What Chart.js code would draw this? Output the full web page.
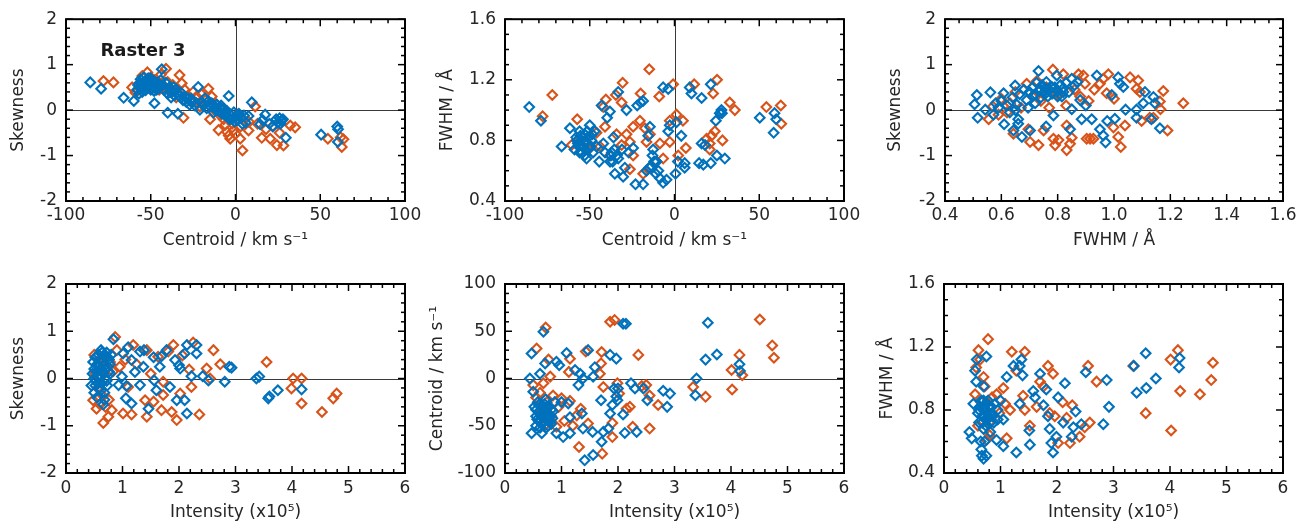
<!DOCTYPE html>
<html><head><meta charset="utf-8">
<script src="https://cdn.jsdelivr.net/npm/chart.js@4.4.1/dist/chart.umd.min.js"></script>
<style>
html,body{margin:0;padding:0;background:#fff;}
body{width:1312px;height:529px;position:relative;overflow:hidden;}
canvas{position:absolute;}
</style></head><body>
<canvas id="c1" width="437" height="264" style="left:0;top:0"></canvas>
<canvas id="c2" width="454" height="264" style="left:420px;top:0"></canvas>
<canvas id="c3" width="452" height="264" style="left:860px;top:0"></canvas>
<canvas id="c4" width="437" height="265" style="left:0;top:264px"></canvas>
<canvas id="c5" width="454" height="265" style="left:420px;top:264px"></canvas>
<canvas id="c6" width="452" height="265" style="left:860px;top:264px"></canvas>
<script>
// ---- Panel 1: Centroid (x) vs Skewness (y)
const p1Blue = [[-85.7,0.61],[-79.3,0.47],[-66,0.27],[-60,0.2],[-58,0.45],[-57.5,0.55],[-57,0.36],[-56,0.68],[-56,0.48],[-55,0.6],[-55,0.4],[-54,0.72],[-54,0.52],[-53,0.63],[-53,0.44],[-52,0.57],[-52,0.68],[-51,0.5],[-51,0.62],[-50,0.45],[-50,0.7],[-49,0.56],[-48,0.64],[-48,0.42],[-47.8,0.15],[-47,0.52],[-46,0.6],[-45,0.48],[-44,0.66],[-43.5,0.9],[-43,0.55],[-42,0.44],[-41,0.6],[-40,0.36],[-40,-0.06],[-39,0.5],[-38,0.28],[-37,0.42],[-36,0.32],[-35,0.46],[-34,-0.08],[-33,0.3],[-32,0.38],[-31,0.22],[-30,0.3],[-29,0.18],[-28,0.26],[-27,0.12],[-25,0.2],[-24,0.1],[-22,0.51],[-21,0.01],[-20,0.18],[-19,0.1],[-18,0.26],[-17,0.04],[-16,0.2],[-15,0.08],[-14,0.15],[-13,-0.05],[-12,0.06],[-11,0.12],[-10,-0.02],[-9,0.05],[-8,-0.08],[-7,0.02],[-6,-0.12],[-5,-0.02],[-4,0.31],[-3,-0.1],[-2,-0.2],[-1,-0.05],[0,-0.14],[1,-0.22],[2,-0.08],[3,-0.18],[4,-0.3],[5,-0.12],[6,-0.28],[7.7,-0.13],[9.6,0.17],[14.5,-0.31],[16,-0.22],[17.5,-0.1],[20,-0.3],[22,-0.36],[24,-0.2],[25,-0.28],[26,-0.18],[27,-0.24],[28,-0.2],[29.7,-0.61],[50.5,-0.54],[60,-0.36],[60.5,-0.42],[60.4,-0.7],
  [-56.5,0.6],[-55.5,0.52],[-54.5,0.45],[-53.5,0.58],[-52.5,0.5],[-51.5,0.7],[-49.5,0.64],[-48.5,0.5],[-46.5,0.45],[-44.5,0.55],[-38.5,0.4],[-36.5,0.5],[-34.5,0.38],[-26,0.25],[-23,0.15],[-13.5,0.1],[-11.5,0.0],[-8.5,0.1],[-6.5,-0.05],[-3.5,-0.2],[-0.5,-0.25],[1.5,-0.12],[26.5,-0.3],[27.5,-0.22]];
const p1Orange = [[-77.9,0.64],[-72,0.61],[-61,0.5],[-59,0.38],[-55,0.75],[-52,0.83],[-50,0.72],[-48,0.66],[-46,0.55],[-45,0.45],[-44,0.78],[-42,0.52],[-41,0.91],[-40,0.62],[-38,0.4],[-37,0.55],[-35,0.28],[-33,0.77],[-31.7,0.59],[-30.7,-0.17],[-30,0.45],[-28,0.32],[-26,0.18],[-25,0.4],[-23,0.3],[-21,0.08],[-20,0.35],[-18,0.22],[-16,0.47],[-15,-0.2],[-14,0.3],[-13,0.02],[-12,0.15],[-10,-0.44],[-9,-0.12],[-8,0.04],[-7,-0.2],[-6,-0.32],[-5,-0.48],[-4,-0.56],[-3.1,-0.63],[-2,-0.3],[-1.2,-0.45],[0,-0.52],[1,-0.1],[2.8,-0.63],[3,-0.36],[4.1,-0.89],[5,-0.22],[7.7,-0.45],[8,-0.26],[11.6,0.08],[13,-0.3],[15.5,-0.61],[18,-0.42],[20.5,-0.63],[22,-0.35],[24.4,-0.77],[26,-0.5],[28.3,-0.78],[32.3,-0.34],[35.2,-0.38],[54.5,-0.63],[62,-0.6],[63.7,-0.64],[62.7,-0.81]];

// ---- Panel 2: Centroid (x) vs FWHM (y)
const p2Blue = [[-85.7,1.02],[-78.8,0.93],[-66.6,0.76],[-61.7,0.88],[-59,0.74],[-58,0.82],[-57,0.78],[-56,0.86],[-56,0.72],[-55,0.8],[-54,0.76],[-53,0.84],[-53,0.7],[-52,0.79],[-51.9,0.68],[-51,0.82],[-50,0.9],[-50,0.75],[-49,0.8],[-48,0.72],[-47,0.86],[-46,0.76],[-44.4,0.66],[-43,1.03],[-42,0.78],[-41,0.72],[-39.7,0.95],[-38.1,0.99],[-38,0.66],[-37,0.72],[-36,0.82],[-35.2,0.58],[-34,0.7],[-33.2,1.12],[-33.2,0.68],[-31,0.74],[-30.3,0.56],[-29.3,0.62],[-28.3,1.0],[-27,0.72],[-24.4,0.75],[-23,0.51],[-22,1.03],[-20,1.05],[-18.5,0.51],[-18.5,1.06],[-16.5,0.6],[-15.5,0.83],[-14.5,0.89],[-13.6,0.63],[-13,0.7],[-12.6,0.74],[-11,0.58],[-10.6,0.66],[-8.6,0.55],[-6.7,1.15],[-6.7,0.52],[-4.7,0.54],[-3.7,1.14],[-3.7,0.86],[-2.8,0.9],[0.6,0.58],[1.2,0.92],[2,0.66],[4,0.83],[6,0.62],[6,0.65],[9,1.15],[10,1.11],[14.5,0.65],[16,1.08],[16,0.78],[17,0.64],[18,0.77],[21.4,1.17],[21.4,0.65],[24.4,0.93],[25,0.7],[26.7,0.98],[27.7,1.0],[29.7,0.68],[50.3,0.95],[58.5,0.85],[59,0.98],[60,0.94],
  [-57.5,0.8],[-56.5,0.76],[-55.5,0.83],[-54.5,0.72],[-53.5,0.79],[-52.5,0.74],[-51.5,0.86],[-49.5,0.76],[-48.5,0.84],[-37.5,0.7],[-36.5,0.66],[-35.5,0.74],[-15,0.62],[-12,0.66],[-9.5,0.6],[28,0.98]];
const p2Orange = [[-77.8,0.96],[-72.1,1.1],[-60.7,0.77],[-57.4,0.94],[-56.8,0.8],[-51.9,0.79],[-50.9,0.74],[-46,0.85],[-44,0.76],[-42,1.02],[-41,0.89],[-40.5,1.07],[-38.1,0.7],[-34.6,1.1],[-34.2,0.84],[-31.2,1.05],[-31.2,0.77],[-30.6,1.18],[-28.3,0.84],[-26.3,0.79],[-26.3,0.61],[-24.4,0.89],[-24.4,0.7],[-20.4,0.93],[-20,1.11],[-18.5,0.58],[-17.5,0.88],[-16.5,0.79],[-14.9,1.27],[-14.5,0.84],[-14.5,0.62],[-10.6,0.66],[-9,1.09],[-8.6,0.78],[-6.7,0.68],[-2.8,0.93],[-2.8,0.79],[-0.8,1.17],[1.2,0.97],[2.2,0.7],[5,0.93],[6.7,0.75],[11.6,1.17],[18.9,0.81],[20.8,0.78],[20.8,0.74],[21.8,0.83],[22.8,1.11],[23.8,0.86],[25.1,1.2],[28.3,0.8],[32.6,1.05],[35.6,1.0],[54.2,1.02],[62.7,1.03],[63,0.91]];

// ---- Panel 3: FWHM (x) vs Skewness (y)
const p3Blue = [[0.513,0.33],[0.505,0.13],[0.516,-0.17],[0.543,0.01],[0.561,0.39],[0.572,-0.1],[0.58,0.15],[0.59,0.05],[0.6,0.2],[0.608,0.37],[0.61,-0.31],[0.62,0.1],[0.63,-0.05],[0.64,0.28],[0.643,-0.45],[0.649,0.54],[0.655,0.12],[0.66,-0.2],[0.665,0.35],[0.673,-0.59],[0.68,0.45],[0.69,0.22],[0.695,0.05],[0.702,-0.45],[0.71,0.5],[0.715,0.32],[0.72,0.15],[0.725,0.6],[0.732,0.86],[0.735,0.42],[0.74,0.28],[0.745,0.55],[0.75,0.38],[0.755,0.48],[0.759,-0.36],[0.76,0.62],[0.765,0.3],[0.77,0.45],[0.775,0.52],[0.78,0.36],[0.785,-0.12],[0.79,0.5],[0.797,0.76],[0.8,0.42],[0.81,0.55],[0.815,0.3],[0.82,0.48],[0.83,0.6],[0.84,0.4],[0.844,-0.42],[0.85,0.69],[0.85,0.02],[0.86,0.55],[0.87,0.62],[0.88,0.22],[0.885,-0.2],[0.9,0.1],[0.921,-0.2],[0.939,0.76],[0.95,-0.42],[0.962,-0.56],[0.97,-0.71],[0.976,-0.24],[0.992,0.33],[1.003,-0.19],[1.015,0.72],[1.021,0.58],[1.033,0.51],[1.041,0.01],[1.08,0.01],[1.08,-0.17],[1.104,0.15],[1.11,0.4],[1.133,-0.2],[1.14,0.29],[1.145,0.15],[1.163,-0.4],
  [0.74,0.45],[0.76,0.38],[0.78,0.5],[0.8,0.3],[0.72,0.35],[0.7,0.4],[0.82,0.4],[0.65,0.0],[0.66,-0.3]];
const p3Orange = [[0.555,-0.2],[0.57,0.08],[0.59,-0.1],[0.6,0.25],[0.62,-0.05],[0.631,0.15],[0.643,-0.52],[0.65,0.4],[0.67,0.05],[0.69,0.58],[0.696,-0.42],[0.702,-0.7],[0.71,0.3],[0.726,0.64],[0.732,-0.77],[0.74,0.2],[0.75,-0.45],[0.76,0.5],[0.77,0.05],[0.783,0.89],[0.785,-0.63],[0.791,-0.77],[0.8,0.35],[0.803,-0.66],[0.82,0.79],[0.83,0.1],[0.832,-0.88],[0.832,-0.34],[0.844,-0.74],[0.85,-0.61],[0.86,0.45],[0.874,0.79],[0.88,0.3],[0.891,0.76],[0.897,0.58],[0.903,-0.63],[0.91,0.2],[0.915,-0.63],[0.927,-0.63],[0.93,0.45],[0.95,0.58],[0.962,0.69],[0.974,0.37],[0.98,0.79],[0.998,-0.38],[1.0,0.25],[1.015,-0.59],[1.024,-0.81],[1.039,-0.34],[1.057,0.72],[1.08,0.47],[1.086,0.65],[1.092,0.4],[1.098,-0.24],[1.127,-0.17],[1.14,-0.17],[1.163,0.19],[1.165,0.02],[1.175,0.42],[1.19,-0.45],[1.246,0.15]];

// ---- Panel 4: Intensity (x) vs Skewness (y)
const p4Blue = [[0.45,-0.15],[0.47,0.1],[0.48,0.35],[0.5,-0.3],[0.5,0.2],[0.52,0.45],[0.53,-0.05],[0.55,0.3],[0.55,-0.4],[0.57,0.05],[0.58,0.5],[0.6,0.2],[0.6,-0.2],[0.62,0.4],[0.63,-0.1],[0.64,0.55],[0.65,0.15],[0.66,-0.55],[0.67,0.3],[0.68,-0.3],[0.7,0.45],[0.7,0.0],[0.72,0.55],[0.73,-0.15],[0.74,0.25],[0.76,0.4],[0.78,0.1],[0.84,0.83],[0.93,-0.14],[0.99,0.04],[1.01,0.53],[1.06,-0.42],[1.07,-0.16],[1.1,0.66],[1.16,0.39],[1.16,-0.53],[1.22,0.14],[1.31,0.57],[1.31,-0.14],[1.37,0.25],[1.38,0.6],[1.46,-0.64],[1.55,0.45],[1.56,-0.04],[1.6,-0.25],[1.66,0.25],[1.69,0.47],[1.78,0.6],[1.84,-0.18],[1.93,0.39],[1.96,-0.46],[2.02,0.21],[2.0,0.28],[2.1,-0.46],[2.1,0.53],[2.14,0.71],[2.14,-0.74],[2.22,0.05],[2.31,0.71],[2.31,0.53],[2.42,0.05],[2.52,-0.04],[2.81,-0.07],[2.89,0.25],[2.93,0.23],[3.37,0.0],[3.42,0.04],[3.58,-0.42],[3.6,-0.38],[3.75,-0.25],[4.17,-0.23],
  [0.5,0.0],[0.52,-0.15],[0.54,0.15],[0.56,-0.1],[0.58,0.25],[0.6,0.05],[0.62,-0.25],[0.64,0.35],[0.66,0.1],[0.68,0.5],[0.7,0.2],[0.72,-0.05],[0.74,0.45],[0.76,0.15],[0.78,0.3],[0.8,0.5],[0.62,0.6],[0.68,-0.45]];
const p4Orange = [[0.48,-0.46],[0.5,0.5],[0.52,0.1],[0.54,-0.64],[0.56,-0.2],[0.58,0.3],[0.6,-0.55],[0.62,0.05],[0.64,-0.35],[0.66,-0.94],[0.68,0.45],[0.7,-0.6],[0.72,0.2],[0.75,-0.81],[0.76,-0.45],[0.78,0.35],[0.81,-0.67],[0.83,0.15],[0.87,0.88],[0.9,0.6],[0.95,0.25],[1.01,-0.74],[1.05,0.4],[1.1,-0.18],[1.16,-0.76],[1.19,0.71],[1.25,0.3],[1.4,-0.46],[1.43,-0.81],[1.43,0.6],[1.5,0.1],[1.55,-0.49],[1.63,0.46],[1.69,-0.67],[1.72,-0.35],[1.72,-0.07],[1.81,0.57],[1.87,-0.71],[1.9,0.71],[1.96,-0.88],[2.02,-0.32],[2.06,0.49],[2.18,0.19],[2.22,-0.18],[2.25,0.76],[2.36,-0.76],[2.49,0.21],[2.55,0.0],[2.61,0.6],[2.73,0.3],[3.55,0.35],[3.99,-0.21],[4.02,0.0],[4.17,0.0],[4.17,-0.53],[4.53,-0.71],[4.73,-0.42],[4.79,-0.32]];

// ---- Panel 5: Intensity (x) vs Centroid (y)
const p5Blue = [[0.44,0],[0.47,26.5],[0.47,-58],[0.5,-14],[0.52,-30],[0.55,-40],[0.55,-50],[0.58,-25],[0.6,-35],[0.6,-45],[0.62,5],[0.63,-38],[0.65,-58],[0.65,-28],[0.66,-48],[0.68,49.5],[0.68,-33],[0.7,-42],[0.71,16],[0.72,-22],[0.73,-52],[0.75,-36],[0.76,-45],[0.78,-30],[0.8,-40],[0.82,-48],[0.85,-35],[0.88,-25],[0.91,17.7],[0.91,-58],[0.96,14],[1.0,-25],[1.03,-62],[1.09,27],[1.12,-26.5],[1.15,-58],[1.15,-41],[1.24,9],[1.3,-7],[1.33,5],[1.36,-37],[1.38,0],[1.38,-53],[1.41,-86.6],[1.47,30],[1.55,-56.5],[1.56,-81],[1.56,2],[1.59,12],[1.7,-23],[1.71,-67],[1.74,-56.5],[1.83,-53],[1.86,25],[1.86,-37],[1.9,-28],[1.93,-10.6],[1.97,-19],[1.97,21],[1.99,-23],[2.0,-10.6],[2.09,58],[2.14,58],[2.09,-38],[2.12,-57.6],[2.23,-5],[2.3,-10.6],[2.33,-56.5],[2.45,-10.6],[2.52,-23],[2.8,-13],[2.87,-30],[2.92,-16],[3.37,-17.7],[3.39,0],[3.55,20],[3.59,59],[3.75,25.4],[4.15,15],[4.16,8],
  [0.55,-33],[0.57,-43],[0.6,-28],[0.62,-52],[0.64,-40],[0.66,-30],[0.68,-46],[0.7,-36],[0.72,-40],[0.74,-30],[0.76,-50],[0.78,-38],[0.8,-45],[0.82,-33],[0.84,-42],[0.7,-27]];
const p5Orange = [[0.5,-7],[0.55,-20],[0.56,31.8],[0.6,-45],[0.62,-15],[0.65,-35],[0.68,-5],[0.7,-50],[0.72,54],[0.74,-25],[0.77,20],[0.8,2],[0.82,-40],[0.85,-18],[0.91,-51],[0.95,-30],[1.0,-21],[1.05,-45],[1.13,7],[1.15,21],[1.15,-23.7],[1.2,-50],[1.27,-39],[1.31,-72.4],[1.34,-32],[1.43,28.6],[1.47,-47.7],[1.68,5],[1.7,16],[1.71,28],[1.72,-79.5],[1.74,-9],[1.86,60],[1.9,-47],[1.9,-62],[1.94,62],[1.99,-5],[2.02,-16],[2.15,-32],[2.21,-30],[2.26,-51],[2.36,25],[2.42,-8],[2.5,-7],[2.56,-18],[2.56,-53],[2.71,-28],[3.33,-9],[3.55,-19.4],[4.01,9],[4.02,-11.6],[4.15,25],[4.2,3.5],[4.51,62.5],[4.73,35],[4.76,22]];

// ---- Panel 6: Intensity (x) vs FWHM (y)
const p6Blue = [[0.45,0.66],[0.49,0.62],[0.52,0.84],[0.55,1.05],[0.57,0.98],[0.58,1.12],[0.6,0.78],[0.62,0.72],[0.64,0.82],[0.65,0.6],[0.67,0.51],[0.68,0.76],[0.7,0.49],[0.7,0.95],[0.7,0.86],[0.72,0.8],[0.74,0.7],[0.75,0.51],[0.75,1.14],[0.76,0.84],[0.78,0.76],[0.8,0.82],[0.82,0.66],[0.85,0.78],[0.88,0.72],[0.9,0.84],[0.93,0.61],[0.95,0.8],[1.0,0.86],[1.05,0.57],[1.05,0.74],[1.11,1.01],[1.23,1.08],[1.28,0.53],[1.34,1.08],[1.34,0.84],[1.37,1.12],[1.39,1.02],[1.51,0.67],[1.52,0.58],[1.58,0.92],[1.61,0.88],[1.7,1.03],[1.76,0.83],[1.81,0.93],[1.84,0.76],[1.87,0.68],[1.9,0.59],[1.93,0.53],[1.99,0.63],[2.02,0.88],[2.11,0.72],[2.14,0.97],[2.26,0.63],[2.29,0.69],[2.33,0.79],[2.43,0.71],[2.51,1.04],[2.82,0.71],[2.88,0.99],[2.92,0.82],[3.36,1.08],[3.41,0.91],[3.57,1.16],[3.58,0.94],[3.75,1.0],[4.16,1.07],[4.17,1.13],
  [0.62,0.8],[0.66,0.86],[0.68,0.72],[0.7,0.82],[0.72,0.76],[0.74,0.84],[0.76,0.74],[0.78,0.86],[0.8,0.78],[0.82,0.72],[0.84,0.82],[0.86,0.76],[0.7,0.68],[0.72,0.6],[0.66,0.55],[0.95,0.74]];
const p6Orange = [[0.55,0.9],[0.57,1.07],[0.6,0.7],[0.61,1.18],[0.64,1.12],[0.66,0.85],[0.7,1.01],[0.72,0.95],[0.74,0.8],[0.75,0.61],[0.78,1.25],[0.8,0.72],[0.81,0.64],[0.85,0.88],[0.93,0.9],[0.98,0.78],[1.05,0.94],[1.08,0.84],[1.11,0.62],[1.17,0.8],[1.2,1.17],[1.28,1.05],[1.4,0.89],[1.43,1.17],[1.43,0.8],[1.52,0.7],[1.64,0.82],[1.7,0.98],[1.76,0.95],[1.84,1.08],[1.87,0.78],[1.93,1.03],[1.96,0.76],[2.02,0.59],[2.1,0.85],[2.17,0.75],[2.23,0.59],[2.27,0.83],[2.4,0.63],[2.49,0.69],[2.55,1.08],[2.58,0.72],[2.7,0.98],[3.35,1.08],[3.57,0.78],[4.01,1.12],[4.02,0.67],[4.14,1.18],[4.18,0.92],[4.53,0.9],[4.73,0.99],[4.76,1.1]];

// axis titles
const tCentroid = 'Centroid / km s\u207B\u00B9';
const tFWHM = 'FWHM / \u00C5';
const tSkew = 'Skewness';
const tInt = 'Intensity (x10\u2075)';

const BLUE = '#0072BD', ORANGE = '#D95319';
const FONT = "'DejaVu Sans', 'Liberation Sans', sans-serif";
const TXT = '#262626';

const decor = {
  id: 'decor',
  beforeDatasetsDraw(chart, args, o) {
    const {ctx, chartArea: a, scales: {x, y}} = chart;
    ctx.save();
    ctx.strokeStyle = '#3a3a3a'; ctx.lineWidth = 1;
    if (o.zeroX) { const px = Math.round(x.getPixelForValue(0)) + 0.5; ctx.beginPath(); ctx.moveTo(px, a.top); ctx.lineTo(px, a.bottom); ctx.stroke(); }
    if (o.zeroY) { const py = Math.round(y.getPixelForValue(0)) + 0.5; ctx.beginPath(); ctx.moveTo(a.left, py); ctx.lineTo(a.right, py); ctx.stroke(); }
    ctx.restore();
  },
  afterDatasetsDraw(chart, args, o) {
    const {ctx, chartArea: a, scales: {x, y}} = chart;
    ctx.save();
    ctx.strokeStyle = '#000';
    ctx.lineWidth = 1.5;
    const seg = (x1, y1, x2, y2) => { ctx.beginPath(); ctx.moveTo(x1, y1); ctx.lineTo(x2, y2); ctx.stroke(); };
    const tickX = (v, len) => { const p = x.getPixelForValue(v); seg(p, a.bottom, p, a.bottom - len); seg(p, a.top, p, a.top + len); };
    const tickY = (v, len) => { const p = y.getPixelForValue(v); seg(a.left, p, a.left + len, p); seg(a.right, p, a.right - len, p); };
    const majX = x.ticks.map(t => t.value), majY = y.ticks.map(t => t.value);
    const isMaj = (arr, v, s) => arr.some(m => Math.abs(m - v) < s * 0.01);
    const nx = Math.round((x.max - x.min) / o.xMinor);
    for (let i = 0; i <= nx; i++) { const v = x.min + i * o.xMinor; if (!isMaj(majX, v, o.xMinor)) tickX(v, 4); }
    const ny = Math.round((y.max - y.min) / o.yMinor);
    for (let i = 0; i <= ny; i++) { const v = y.min + i * o.yMinor; if (!isMaj(majY, v, o.yMinor)) tickY(v, 4); }
    majX.forEach(v => tickX(v, 7));
    majY.forEach(v => tickY(v, 7));
    ctx.lineWidth = 2;
    ctx.strokeRect(a.left, a.top, a.right - a.left, a.bottom - a.top);
    if (o.label) {
      ctx.font = "bold 18px " + FONT;
      ctx.fillStyle = '#1a1a1a';
      ctx.textAlign = 'center'; ctx.textBaseline = 'middle';
      ctx.fillText(o.label, a.left + 77, a.top + 32);
    }
    ctx.restore();
  }
};

const toXY = arr => arr.map(p => ({x: p[0], y: p[1]}));
const fmt1 = v => Number(v).toFixed(1);
const fmt0 = v => String(Math.round(v));

function panel(id, c) {
  const ds = (arr, col) => ({
    data: toXY(arr), pointStyle: 'rectRot', pointRadius: 4.8, pointHoverRadius: 4.8,
    pointBorderColor: col, pointBackgroundColor: 'rgba(0,0,0,0)', pointBorderWidth: 2.1,
    borderColor: col, showLine: false
  });
  const tickFont = {family: FONT, size: 17};
  new Chart(document.getElementById(id), {
    type: 'scatter',
    data: {datasets: [ds(c.blue, BLUE), ds(c.orange, ORANGE)]},
    options: {
      responsive: false, animation: false, devicePixelRatio: 1, events: [],
      layout: {padding: {left: 0, top: c.padTop, right: c.padRight, bottom: 0}},
      plugins: {legend: {display: false}, tooltip: {enabled: false},
        decor: {xMinor: c.xMinor, yMinor: c.yMinor, zeroX: c.zeroX, zeroY: c.zeroY, label: c.label}},
      scales: {
        x: {type: 'linear', min: c.xr[0], max: c.xr[1],
          grid: {display: false, drawTicks: false}, border: {display: false},
          ticks: {stepSize: c.xStep, autoSkip: false, maxRotation: 0, padding: c.xTickPad, color: TXT, font: tickFont, callback: c.xFmt},
          title: {display: true, text: c.xTitle, color: TXT, font: tickFont, padding: {top: 0, bottom: c.xTitlePad}},
          afterFit: s => { s.height = c.xAxisH; }},
        y: {type: 'linear', min: c.yr[0], max: c.yr[1],
          grid: {display: false, drawTicks: false}, border: {display: false},
          ticks: {stepSize: c.yStep, autoSkip: false, padding: 9, color: TXT, font: tickFont, callback: c.yFmt},
          title: {display: true, text: c.yTitle, color: TXT, font: tickFont, padding: {top: c.yTitlePad, bottom: 0}},
          afterFit: s => { s.width = c.yAxisW; }}
      }
    },
    plugins: [decor]
  });
}

const row1 = {padTop: 13, xAxisH: 63, xTitlePad: 13, xTickPad: 4};
const row2 = {padTop: 20, xAxisH: 56, xTitlePad: 6, xTickPad: 5};

panel('c1', Object.assign({}, row1, {blue: p1Blue, orange: p1Orange, xr: [-100, 100], xStep: 50, xMinor: 10, yr: [-2, 2], yStep: 1, yMinor: 0.2,
  xFmt: fmt0, yFmt: fmt0, xTitle: tCentroid, yTitle: tSkew, yAxisW: 66, padRight: 32, yTitlePad: 8, zeroX: true, zeroY: true, label: 'Raster 3'}));
panel('c2', Object.assign({}, row1, {blue: p2Blue, orange: p2Orange, xr: [-100, 100], xStep: 50, xMinor: 10, yr: [0.4, 1.6], yStep: 0.4, yMinor: 0.1,
  xFmt: fmt0, yFmt: fmt1, xTitle: tCentroid, yTitle: tFWHM, yAxisW: 85, padRight: 30, yTitlePad: 17, zeroX: true, zeroY: false}));
panel('c3', Object.assign({}, row1, {blue: p3Blue, orange: p3Orange, xr: [0.4, 1.6], xStep: 0.2, xMinor: 0.05, yr: [-2, 2], yStep: 1, yMinor: 0.2,
  xFmt: fmt1, yFmt: fmt0, xTitle: tFWHM, yTitle: tSkew, yAxisW: 85, padRight: 29, yTitlePad: 25, zeroX: false, zeroY: true}));
panel('c4', Object.assign({}, row2, {blue: p4Blue, orange: p4Orange, xr: [0, 6], xStep: 1, xMinor: 0.2, yr: [-2, 2], yStep: 1, yMinor: 0.2,
  xFmt: fmt0, yFmt: fmt0, xTitle: tInt, yTitle: tSkew, yAxisW: 66, padRight: 32, yTitlePad: 8, zeroX: false, zeroY: true}));
panel('c5', Object.assign({}, row2, {blue: p5Blue, orange: p5Orange, xr: [0, 6], xStep: 1, xMinor: 0.2, yr: [-100, 100], yStep: 50, yMinor: 10,
  xFmt: fmt0, yFmt: fmt0, xTitle: tInt, yTitle: tCentroid, yAxisW: 85, padRight: 30, yTitlePad: 7, zeroX: false, zeroY: true}));
panel('c6', Object.assign({}, row2, {blue: p6Blue, orange: p6Orange, xr: [0, 6], xStep: 1, xMinor: 0.2, yr: [0.4, 1.6], yStep: 0.4, yMinor: 0.1,
  xFmt: fmt0, yFmt: fmt1, xTitle: tInt, yTitle: tFWHM, yAxisW: 84, padRight: 29, yTitlePad: 17, zeroX: false, zeroY: false}));
</script>
</body></html>
